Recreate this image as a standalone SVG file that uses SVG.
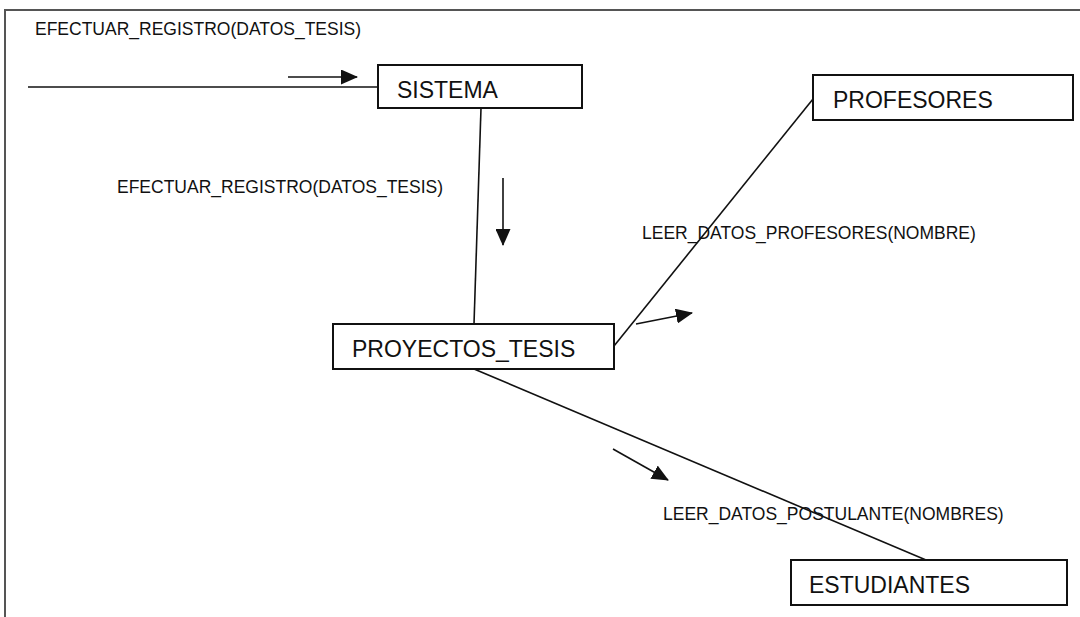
<svg xmlns="http://www.w3.org/2000/svg" width="1080" height="617" viewBox="0 0 1080 617">
  <defs>
    <style>
      .frame { fill: none; stroke: #555; stroke-width: 2; }
      .box { fill: #fff; stroke: #111; stroke-width: 2; }
      .link { fill: none; stroke: #111; stroke-width: 1.6; }
      .flow { fill: none; stroke: #111; stroke-width: 1.6; marker-end: url(#head); }
      .name { font-family: "Liberation Sans", Arial, sans-serif; font-size: 23px; fill: #111; }
      .msg { font-family: "Liberation Sans", Arial, sans-serif; font-size: 17.5px; fill: #111; }
    </style>
    <marker id="head" viewBox="0 0 17 15" refX="16" refY="7.5" markerWidth="17" markerHeight="15" markerUnits="userSpaceOnUse" orient="auto">
      <path d="M0,0 L17,7.5 L0,15 Z" fill="#111"/>
    </marker>
  </defs>
  <rect width="1080" height="617" fill="#fff"/>

  <!-- outer frame: top and left edges only -->
  <path class="frame" d="M5,617 L5,10 L1080,10"/>

  <!-- connectors -->
  <g id="connectors">
    <line class="link" x1="28" y1="87" x2="378" y2="87"/>
    <line class="flow" x1="288" y1="77" x2="357" y2="77"/>
    <line class="link" x1="481" y1="108" x2="474" y2="324"/>
    <line class="flow" x1="503" y1="178" x2="503" y2="245"/>
    <line class="link" x1="614" y1="346" x2="813" y2="99"/>
    <line class="flow" x1="636" y1="324" x2="692" y2="313"/>
    <line class="link" x1="474" y1="369" x2="926" y2="560"/>
    <line class="flow" x1="613" y1="449" x2="668" y2="480"/>
    <text class="msg" x="35" y="35">EFECTUAR_REGISTRO(DATOS_TESIS)</text>
    <text class="msg" x="117" y="193">EFECTUAR_REGISTRO(DATOS_TESIS)</text>
    <text class="msg" x="642" y="239">LEER_DATOS_PROFESORES(NOMBRE)</text>
    <text class="msg" x="663" y="520">LEER_DATOS_POSTULANTE(NOMBRES)</text>
  </g>

  <g id="sistema">
    <rect class="box" x="378" y="65" width="204" height="43"/>
    <text class="name" x="397" y="98">SISTEMA</text>
  </g>

  <g id="proyectos_tesis">
    <rect class="box" x="333" y="324" width="281" height="45"/>
    <text class="name" x="352" y="357">PROYECTOS_TESIS</text>
  </g>

  <g id="profesores">
    <rect class="box" x="813" y="75" width="260" height="45"/>
    <text class="name" x="833" y="108">PROFESORES</text>
  </g>

  <g id="estudiantes">
    <rect class="box" x="791" y="560" width="276" height="45"/>
    <text class="name" x="809" y="593">ESTUDIANTES</text>
  </g>
</svg>
